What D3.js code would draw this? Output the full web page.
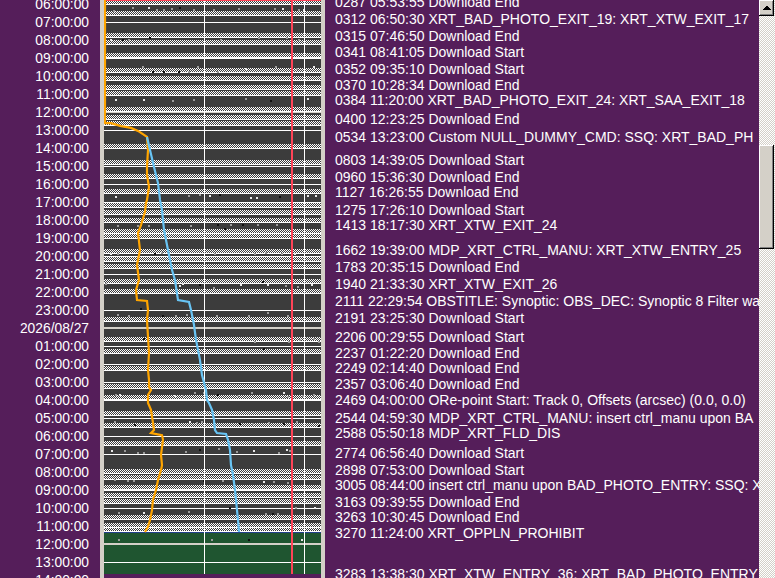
<!DOCTYPE html>
<html>
<head>
<meta charset="utf-8">
<script src="https://cdn.jsdelivr.net/npm/d3@7"></script>
<style>
  body { margin: 0; background: #551e5a; }
  svg { display: block; }
  text { font-family: 'Liberation Sans', Arial, sans-serif; font-size: 14px; fill: #fff; }
</style>
</head>
<body>
<svg width="775" height="578"></svg>
<script>
const startDay = '2026-08-26';

// end of each checkered band (HH:MM, rolls over to next day)
const bandEnds = ['06:00', '06:37', '07:50', '08:13', '08:57', '09:47', '10:13', '10:43', '11:03',
  '11:57', '12:23', '12:43', '14:00', '14:53', '15:40', '16:30', '17:17', '17:40', '18:07',
  '18:43', '19:00', '19:50', '20:17', '20:40', '21:30', '22:03', '23:37',
  '00:43', '01:23', '02:20', '03:20', '03:57', '04:50', '05:30', '06:30', '08:03', '08:23',
  '08:57', '09:23', '09:43', '10:37', '11:03', '11:17'];

// hour lines drawn grey instead of white
const greyHours = [0, 12];

// orange series
const orangeTimes = ['05:40', '12:37', '12:37', '12:47', '12:53', '13:03', '13:23', '14:07', '15:03',
  '15:30', '16:10', '16:53', '17:03', '17:33', '18:17', '18:43', '19:40', '20:30', '21:20', '21:53',
  '22:27', '22:30', '23:00', '23:33', '00:30', '01:23', '02:20', '02:53', '03:17', '03:27', '03:43',
  '04:10', '04:33', '05:17', '05:40', '05:50', '05:57', '06:13', '07:03', '07:37', '07:53', '08:27',
  '09:00', '09:33', '10:07', '10:40', '11:03', '11:20'];
const orangeValues = [0, 0, 6, 16, 26, 33, 42, 43, 42,
  42, 44, 42, 41, 40, 36, 33, 35, 32, 34, 31,
  32, 42, 43, 42, 43, 44, 43, 44, 44, 46, 43,
  43, 46, 48, 49, 46, 57, 58, 56, 57, 56, 53,
  51, 48, 47, 45, 43, 40];

// blue series
const blueTimes = ['13:23', '14:07', '15:03', '15:57', '16:53', '17:27', '18:33', '19:40', '20:47',
  '21:20', '22:27', '22:33', '23:00', '23:50', '00:40', '01:13', '01:47', '02:37', '03:27', '04:00',
  '04:10', '04:33', '05:07', '05:40', '05:50', '05:53', '06:13', '06:47', '07:37', '08:10', '09:00',
  '10:07', '10:40', '11:20'];
const blueValues = [42, 45, 49, 53, 55, 57, 59, 63, 67,
  70, 73, 84, 86, 89, 91, 93, 95, 97, 101, 102,
  104, 107, 109, 110, 112, 121, 123, 125, 126, 128, 130,
  132, 133, 134];

// vertical markers (plot units)
const gridUnits = [100, 200];
const redUnit = 187;
const nowTime = '2026-08-26 05:47:00';

// prohibited window (green)
const prohibitStart = '2026-08-27 11:24:00';
const prohibitEnd = '2026-08-27 13:38:30';

// scattered status pixels: [hours since 06:00, unit, shade]
const dots = [
  [0.33, 9, 'g'], [0.15, 28, 'g'], [0.15, 44, 'w'], [0.30, 52, 'g'], [0.30, 59, 'g'], [0.20, 67, 'g'],
  [0.15, 75, 'd'], [0.30, 89, 'g'], [0.30, 109, 'g'], [0.20, 134, 'g'], [0.20, 170, 'g'], [0.20, 178, 'w'],
  [0.30, 194, 'g'], [0.25, 199, 'w'],
  [1.96, 6, 'w'], [1.96, 18, 'd'], [1.96, 24, 'g'], [1.85, 45, 'd'], [1.96, 116, 'g'], [1.85, 154, 'g'],
  [1.85, 182, 'g'], [1.96, 194, 'g'],
  [3.43, 38, 'g'], [3.72, 48, 'd'], [3.72, 59, 'd'], [3.72, 74, 'd'], [3.72, 84, 'g'], [3.43, 93, 'g'],
  [3.72, 113, 'g'], [3.54, 141, 'w'], [3.43, 171, 'g'], [3.54, 192, 'g'], [3.43, 209, 'w'],
  [5.28, 11, 'w'], [5.28, 39, 'w'], [5.33, 68, 'g'], [5.28, 89, 'g'], [5.20, 141, 'g'], [5.33, 166, 'd'],
  [5.20, 203, 'w'],
  [10.65, 11, 'w'], [10.60, 84, 'g'], [10.55, 95, 'g'], [10.60, 105, 'w'], [10.55, 115, 'd'],
  [10.70, 146, 'w'], [10.70, 152, 'w'], [10.65, 175, 'd'], [10.60, 203, 'w'], [10.60, 211, 'w'],
  [12.3, 13, 'g'], [12.3, 33, 'g'], [12.3, 44, 'g'], [12.3, 86, 'g'], [12.2, 113, 'd'], [12.42, 120, 'd'],
  [12.2, 126, 'g'], [12.2, 138, 'd'], [12.2, 153, 'g'], [12.2, 172, 'g'],
  [13.85, 6, 'w'], [13.85, 13, 'g'], [13.85, 50, 'd'], [13.8, 57, 'g'], [13.85, 110, 'g'], [13.85, 150, 'g'],
  [13.8, 161, 'g'], [13.85, 177, 'g'], [13.85, 190, 'w'],
  [15.5, 1, 'g'], [15.3, 43, 'g'], [15.6, 75, 'w'], [15.5, 78, 'w'], [15.55, 95, 'd'], [15.7, 109, 'g'],
  [15.55, 136, 'w'], [15.4, 158, 'd'], [15.55, 163, 'w'], [15.6, 181, 'g'], [15.65, 193, 'g'], [15.55, 207, 'w'],
  [17.2, 13, 'g'], [17.25, 24, 'g'], [16.9, 36, 'd'], [17.25, 58, 'd'], [17.25, 71, 'g'], [17.2, 82, 'g'],
  [17.3, 112, 'g'], [17.3, 144, 'g'], [17.1, 163, 'g'], [17.25, 183, 'g'],
  [18.55, 39, 'd'], [18.6, 53, 'g'], [18.7, 150, 'g'], [18.7, 184, 'g'], [18.6, 195, 'g'], [18.55, 209, 'g'],
  [18.7, 214, 'g'], [19.1, 159, 'd'],
  [21.65, 11, 'g'], [21.65, 15, 'w'], [21.7, 70, 'w'], [21.7, 78, 'g'], [21.55, 90, 'g'], [21.55, 99, 'g'],
  [21.65, 113, 'd'], [21.7, 133, 'g'], [21.55, 147, 'g'], [21.55, 179, 'w'], [21.8, 183, 'g'],
  [21.7, 198, 'g'], [21.65, 209, 'g'],
  [23.15, 10, 'g'], [23.35, 30, 'd'], [23.3, 49, 'g'], [23.3, 67, 'g'], [23.15, 85, 'w'], [23.2, 92, 'g'],
  [23.15, 97, 'g'], [23.3, 135, 'd'], [23.3, 148, 'g'], [23.2, 164, 'g'], [23.3, 179, 'd'], [23.15, 192, 'g'],
  [23.4, 214, 'd'],
  [24.8, 7, 'w'], [24.8, 20, 'g'], [24.9, 33, 'g'], [24.9, 39, 'g'], [24.85, 81, 'g'], [24.7, 95, 'd'],
  [24.65, 114, 'g'], [24.85, 132, 'g'], [24.8, 149, 'w'], [24.9, 174, 'g'], [24.7, 182, 'w'], [24.8, 185, 'g'],
  [26.4, 10, 'g'], [26.45, 23, 'g'], [26.45, 29, 'g'], [26.45, 99, 'd'], [26.45, 118, 'g'], [26.5, 159, 'w'],
  [26.5, 169, 'g'], [26.55, 183, 'g'],
  [28.2, 14, 'g'], [28.2, 39, 'w'], [28.15, 84, 'g'], [27.95, 125, 'd'], [28.25, 161, 'g'], [28.25, 168, 'd'],
  [28.25, 173, 'g'], [27.95, 191, 'g'], [27.95, 210, 'w'],
  [29.72, 14, 'g'], [29.72, 107, 'g'], [29.72, 144, 'd'], [29.72, 197, 'w']
];

// event log on the right
const eventIds = ['0287', '0312', '0315', '0341', '0352', '0370', '0384', '0400', '0534', '0803',
  '0960', '1127', '1275', '1413', '1662', '1783', '1940', '2111', '2191', '2206', '2237', '2249',
  '2357', '2469', '2544', '2588', '2774', '2898', '3005', '3163', '3263', '3270', '3283'];
const eventTimes = ['05:53:55', '06:50:30', '07:46:50', '08:41:05', '09:35:10', '10:28:34', '11:20:00',
  '12:23:25', '13:23:00', '14:39:05', '15:36:30', '16:26:55', '17:26:10', '18:17:30', '19:39:00',
  '20:35:15', '21:33:30', '22:29:54', '23:25:30', '00:29:55', '01:22:20', '02:14:40', '03:06:40',
  '04:00:00', '04:59:30', '05:50:18', '06:56:40', '07:53:00', '08:44:00', '09:39:55', '10:30:45',
  '11:24:00', '13:38:30'];
const eventTexts = ['Download End', 'XRT_BAD_PHOTO_EXIT_19: XRT_XTW_EXIT_17', 'Download End',
  'Download Start', 'Download Start', 'Download End', 'XRT_BAD_PHOTO_EXIT_24: XRT_SAA_EXIT_18',
  'Download End', 'Custom NULL_DUMMY_CMD: SSQ: XRT_BAD_PH', 'Download Start', 'Download End',
  'Download End', 'Download Start', 'XRT_XTW_EXIT_24', 'MDP_XRT_CTRL_MANU: XRT_XTW_ENTRY_25',
  'Download End', 'XRT_XTW_EXIT_26', 'OBSTITLE: Synoptic: OBS_DEC: Synoptic 8 Filter wa',
  'Download Start', 'Download Start', 'Download End', 'Download End', 'Download End',
  'ORe-point Start: Track 0, Offsets (arcsec) (0.0, 0.0)', 'MDP_XRT_CTRL_MANU: insert ctrl_manu upon BA',
  'MDP_XRT_FLD_DIS', 'Download Start', 'Download Start', 'insert ctrl_manu upon BAD_PHOTO_ENTRY: SSQ: X',
  'Download End', 'Download End', 'XRT_OPPLN_PROHIBIT', 'XRT_XTW_ENTRY_36: XRT_BAD_PHOTO_ENTRY'];

const svg = d3.select('svg');
const width = +svg.attr('width');
const height = +svg.attr('height');

const parseFull = d3.timeParse('%Y-%m-%d %H:%M:%S');
const base = parseFull(startDay + ' 06:00:00');

// turn clock strings into dates, stepping a day whenever the clock goes backwards
const toDates = (clocks, firstDay) => {
  let day = d3.timeParse('%Y-%m-%d')(firstDay);
  let prev = -1;
  return clocks.map(c => {
    const p = c.split(':').map(Number);
    const secs = p[0] * 3600 + p[1] * 60 + (p[2] || 0);
    if (secs < prev) day = d3.timeDay.offset(day, 1);
    prev = secs;
    return new Date(day.getTime() + secs * 1000);
  });
};

const render = () => {
  const plot = { left: 104, right: 321 };
  const panel = { left: 325, right: 759 };

  const yScale = d3.scaleTime()
    .domain([base, d3.timeHour.offset(base, 32)])
    .range([4, 4 + 18 * 32]);

  const xScale = d3.scaleLinear()
    .domain([0, plot.right - plot.left])
    .range([plot.left, plot.right]);

  const defs = svg.append('defs');
  const checker = (id, a, b) => {
    const p = defs.append('pattern').attr('id', id)
      .attr('patternUnits', 'userSpaceOnUse').attr('width', 2).attr('height', 2);
    p.append('rect').attr('width', 2).attr('height', 2).attr('fill', b);
    p.append('rect').attr('width', 1).attr('height', 1).attr('fill', a);
    p.append('rect').attr('x', 1).attr('y', 1).attr('width', 1).attr('height', 1).attr('fill', a);
  };
  checker('band', '#ffffff', '#3c3c3c');
  checker('track', '#ffffff', '#d4d0c8');
  defs.append('clipPath').attr('id', 'plotClip').append('rect')
    .attr('x', plot.left).attr('y', 0).attr('width', plot.right - plot.left).attr('height', height);
  defs.append('clipPath').attr('id', 'panelClip').append('rect')
    .attr('x', panel.left).attr('y', 0).attr('width', panel.right - panel.left).attr('height', height);

  svg.append('rect').attr('width', width).attr('height', height).attr('fill', '#551e5a');

  // frame bars
  svg.append('rect').attr('x', 100).attr('width', 4).attr('height', height).attr('fill', '#d4d0c8');
  svg.append('rect').attr('x', plot.right).attr('width', 4).attr('height', height).attr('fill', '#d4d0c8');

  const g = svg.append('g').attr('clip-path', 'url(#plotClip)').attr('shape-rendering', 'crispEdges');

  const gStart = Math.round(yScale(parseFull(prohibitStart)));
  const gEnd = Math.round(yScale(parseFull(prohibitEnd)));
  g.append('rect').attr('x', plot.left).attr('y', 0)
    .attr('width', plot.right - plot.left).attr('height', gStart).attr('fill', '#3c3c3c');
  g.append('rect').attr('x', plot.left).attr('y', gStart)
    .attr('width', plot.right - plot.left).attr('height', gEnd - gStart).attr('fill', '#1f5530');
  g.append('rect').attr('x', plot.left).attr('y', gStart - 1)
    .attr('width', plot.right - plot.left).attr('height', 1).attr('fill', '#23408a');

  // hour lines
  const hours = d3.timeHour.range(base, parseFull(prohibitEnd));
  g.selectAll('.hour').data(hours).join('rect')
    .attr('class', 'hour')
    .attr('x', plot.left).attr('width', plot.right - plot.left)
    .attr('y', d => Math.round(yScale(d)) - (greyHours.includes(d.getHours()) ? 1 : 0))
    .attr('height', d => greyHours.includes(d.getHours()) ? 2 : 1)
    .attr('fill', d => greyHours.includes(d.getHours()) ? '#d4d0c8' : '#ffffff');

  // checkered bands
  const bands = toDates(bandEnds, startDay);
  g.selectAll('.band').data(bands).join('rect')
    .attr('class', 'band')
    .attr('x', plot.left).attr('width', plot.right - plot.left)
    .attr('y', d => Math.round(yScale(d)) - 4).attr('height', 4)
    .attr('fill', 'url(#band)');
  g.selectAll('.bandline').data(bands).join('rect')
    .attr('class', 'bandline')
    .attr('x', plot.left).attr('width', plot.right - plot.left)
    .attr('y', d => Math.round(yScale(d))).attr('height', 1)
    .attr('fill', '#ffffff');

  // status pixels
  const shade = { g: '#9a9a9a', w: '#e8e8e8', d: '#101010' };
  g.selectAll('.dot').data(dots).join('rect')
    .attr('class', 'dot')
    .attr('x', d => Math.round(xScale(d[1])))
    .attr('y', d => Math.round(yScale(new Date(base.getTime() + d[0] * 3600e3))))
    .attr('width', 2).attr('height', 2)
    .attr('fill', d => shade[d[2]]);

  // vertical markers
  g.selectAll('.vgrid').data(gridUnits).join('rect')
    .attr('class', 'vgrid')
    .attr('x', d => Math.round(xScale(d))).attr('y', 0)
    .attr('width', 1).attr('height', gEnd).attr('fill', '#ffffff');
  g.append('rect').attr('x', Math.round(xScale(redUnit))).attr('y', 0)
    .attr('width', 2).attr('height', gEnd).attr('fill', '#ff4458');
  g.append('rect').attr('x', plot.left).attr('y', Math.max(0, Math.round(yScale(parseFull(nowTime)))))
    .attr('width', plot.right - plot.left).attr('height', 1).attr('fill', '#ff4458');

  // series lines
  const lineGenerator = d3.line()
    .x(d => xScale(d.v))
    .y(d => yScale(d.t));
  const orange = toDates(orangeTimes, startDay).map((t, i) => ({ t, v: orangeValues[i] }));
  const blue = toDates(blueTimes, startDay).map((t, i) => ({ t, v: blueValues[i] }));
  const lines = svg.append('g').attr('clip-path', 'url(#plotClip)');
  lines.append('path').attr('d', lineGenerator(orange))
    .attr('fill', 'none').attr('stroke', '#ffa500').attr('stroke-width', 2.2)
    .attr('transform', 'translate(1,0)');
  lines.append('path').attr('d', lineGenerator(blue))
    .attr('fill', 'none').attr('stroke', '#68c4f4').attr('stroke-width', 2.2)
    .attr('transform', 'translate(1,0)');

  // time axis on the left
  const fmtTime = d3.timeFormat('%H:%M:%S');
  const fmtDate = d3.timeFormat('%Y/%m/%d');
  const yAxis = d3.axisLeft(yScale)
    .ticks(d3.timeHour.every(1))
    .tickFormat(d => d.getHours() === 0 ? fmtDate(d) : fmtTime(d))
    .tickSize(0)
    .tickPadding(0);
  const yAxisG = svg.append('g').attr('transform', 'translate(89,0)').call(yAxis);
  yAxisG.select('.domain').remove();
  yAxisG.selectAll('text')
    .attr('fill', '#fff')
    .style('font-family', "'Liberation Sans', Arial, sans-serif")
    .style('font-size', '13.8px');

  // event log
  const evDates = toDates(eventTimes, startDay);
  const log = svg.append('g').attr('clip-path', 'url(#panelClip)');
  log.selectAll('text').data(eventIds).join('text')
    .attr('x', 335)
    .attr('y', (d, i) => yScale(evDates[i]))
    .attr('dy', '0.36em')
    .text((d, i) => `${d} ${eventTimes[i]} ${eventTexts[i]}`);

  // scrollbar
  const sb = svg.append('g').attr('shape-rendering', 'crispEdges');
  sb.append('rect').attr('x', panel.right).attr('y', 0).attr('width', width - panel.right)
    .attr('height', height).attr('fill', 'url(#track)');
  const bevel = (y, h) => {
    const x = panel.right, w = 15;
    sb.append('rect').attr('x', x).attr('y', y).attr('width', w).attr('height', h).attr('fill', '#d4d0c8');
    sb.append('rect').attr('x', x).attr('y', y).attr('width', w).attr('height', 1).attr('fill', '#ffffff');
    sb.append('rect').attr('x', x).attr('y', y).attr('width', 1).attr('height', h).attr('fill', '#ffffff');
    sb.append('rect').attr('x', x).attr('y', y + h - 1).attr('width', w).attr('height', 1).attr('fill', '#000');
    sb.append('rect').attr('x', x + w - 1).attr('y', y).attr('width', 1).attr('height', h).attr('fill', '#000');
    sb.append('rect').attr('x', x + 1).attr('y', y + h - 2).attr('width', w - 2).attr('height', 1).attr('fill', '#808080');
    sb.append('rect').attr('x', x + w - 2).attr('y', y + 1).attr('width', 1).attr('height', h - 2).attr('fill', '#808080');
  };
  bevel(0, 16);
  sb.append('path').attr('d', 'M763,10 L771,10 L767,5 Z').attr('fill', '#000');
  bevel(145, 104);
};

render();
</script>
</body>
</html>
